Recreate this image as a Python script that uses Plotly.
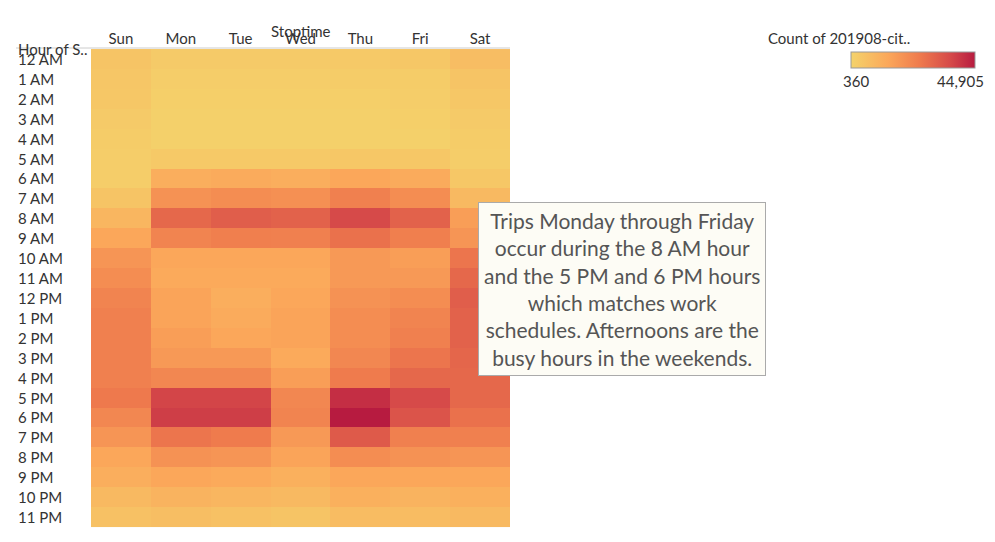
import plotly.graph_objects as go

days = ["Sun", "Mon", "Tue", "Wed", "Thu", "Fri", "Sat"]
hours = ["12 AM", "1 AM", "2 AM", "3 AM", "4 AM", "5 AM", "6 AM", "7 AM", "8 AM", "9 AM",
         "10 AM", "11 AM", "12 PM", "1 PM", "2 PM", "3 PM", "4 PM", "5 PM", "6 PM", "7 PM",
         "8 PM", "9 PM", "10 PM", "11 PM"]
counts = [
    [4810, 3030, 3030, 3030, 3480, 3920, 7040],
    [4370, 2140, 2140, 2140, 2590, 2590, 4810],
    [3920, 1700, 1700, 1700, 1700, 2140, 3920],
    [3030, 1250, 1250, 1250, 1250, 1700, 3030],
    [2590, 1250, 1250, 1250, 1250, 1250, 2590],
    [2140, 3480, 3480, 3480, 3920, 3920, 2140],
    [2140, 11490, 12380, 11490, 13710, 12380, 3920],
    [4810, 19050, 20390, 19500, 23500, 20390, 8370],
    [9260, 29290, 31510, 30620, 35960, 30620, 15940],
    [13710, 22610, 23950, 23500, 27060, 23950, 18160],
    [18160, 13710, 13710, 13710, 17270, 15940, 26170],
    [20390, 12820, 12820, 12820, 17270, 17270, 29290],
    [22610, 14600, 11490, 13710, 19050, 20390, 31510],
    [23500, 14600, 12380, 14600, 20390, 22610, 30620],
    [23500, 15940, 13710, 14600, 20390, 23500, 30620],
    [23500, 17270, 17270, 12820, 21720, 26170, 29730],
    [23500, 21720, 21720, 15940, 24840, 29290, 29290],
    [25280, 36850, 36850, 21720, 41310, 35960, 29290],
    [21720, 38190, 38190, 22610, 44905, 33740, 27060],
    [18160, 26170, 24840, 17270, 32400, 23500, 23500],
    [13710, 19050, 18160, 14600, 20390, 19050, 18160],
    [11490, 13710, 12820, 11040, 13710, 13710, 13710],
    [8370, 10150, 9260, 8370, 11040, 10150, 11040],
    [5700, 6590, 5700, 4810, 7480, 7480, 8370],
]
cmin, cmax = 360, 44905

scale = [[0, "#f4d36b"], [0.3, "#fba75a"], [0.55, "#ef7b4d"], [0.8, "#d64a49"], [1, "#b71b40"]]
font = "Lato, Open Sans, sans-serif"
W, H = 995, 542
L, R, T, B = 83, 502, 40, 520
PW, PH = R - L, B - T


def px(x):
    return (x - L) / PW


def py(y):
    return 1 - (y - T) / PH


f14 = dict(size=15, color="#333", family=font)

fig = go.Figure(go.Heatmap(
    z=counts, x=days, y=hours, colorscale=scale, zmin=cmin, zmax=cmax,
    colorbar=dict(orientation="h", x=px(833), xanchor="left", y=py(34), yanchor="top",
                  len=144, lenmode="pixels", thickness=16,
                  outlinecolor="#999", outlinewidth=1, showticklabels=False, ticks="")))

ann = []
for h in hours:
    ann.append(dict(x=px(8), xref="paper", y=h, yref="y", text=h, showarrow=False,
                    xanchor="left", font=f14))
ann += [
    dict(x=px(8), y=py(30), text="Hour of S..", xanchor="left"),
    dict(x=0.5, y=py(12), text="Stoptime"),
    dict(x=px(904), y=py(19), text="Count of 201908-cit.."),
    dict(x=px(833), y=py(62), text="360", xanchor="left"),
    dict(x=px(978), y=py(62), text="44,905", xanchor="right"),
]
for a in ann[-5:]:
    a.update(xref="paper", yref="paper", showarrow=False, font=f14)
ann.append(dict(x=px(758), y=py(368), xref="paper", yref="paper", showarrow=False,
                text="Trips Monday through Friday<br>occur during the 8 AM hour<br>and the 5 PM and 6 PM hours<br>which matches work<br>schedules. Afternoons are the<br>busy hours in the weekends.",
                font=dict(size=21, color="#555", family=font), bgcolor="#fdfcf5", bordercolor="#aaa",
                borderwidth=1, borderpad=5, align="center"))

fig.update_layout(
    width=W, height=H, margin=dict(l=L, r=W - R, t=T, b=H - B, autoexpand=False),
    paper_bgcolor="white", plot_bgcolor="white",
    xaxis=dict(side="top", showgrid=False, ticks="", tickfont=f14),
    yaxis=dict(autorange="reversed", showticklabels=False, showgrid=False, ticks=""),
    shapes=[dict(type="line", xref="paper", yref="paper", x0=px(8), x1=1, y0=1, y1=1,
                 line=dict(color="#ccc", width=1))],
    annotations=ann,
)
fig.write_html("out.html")
